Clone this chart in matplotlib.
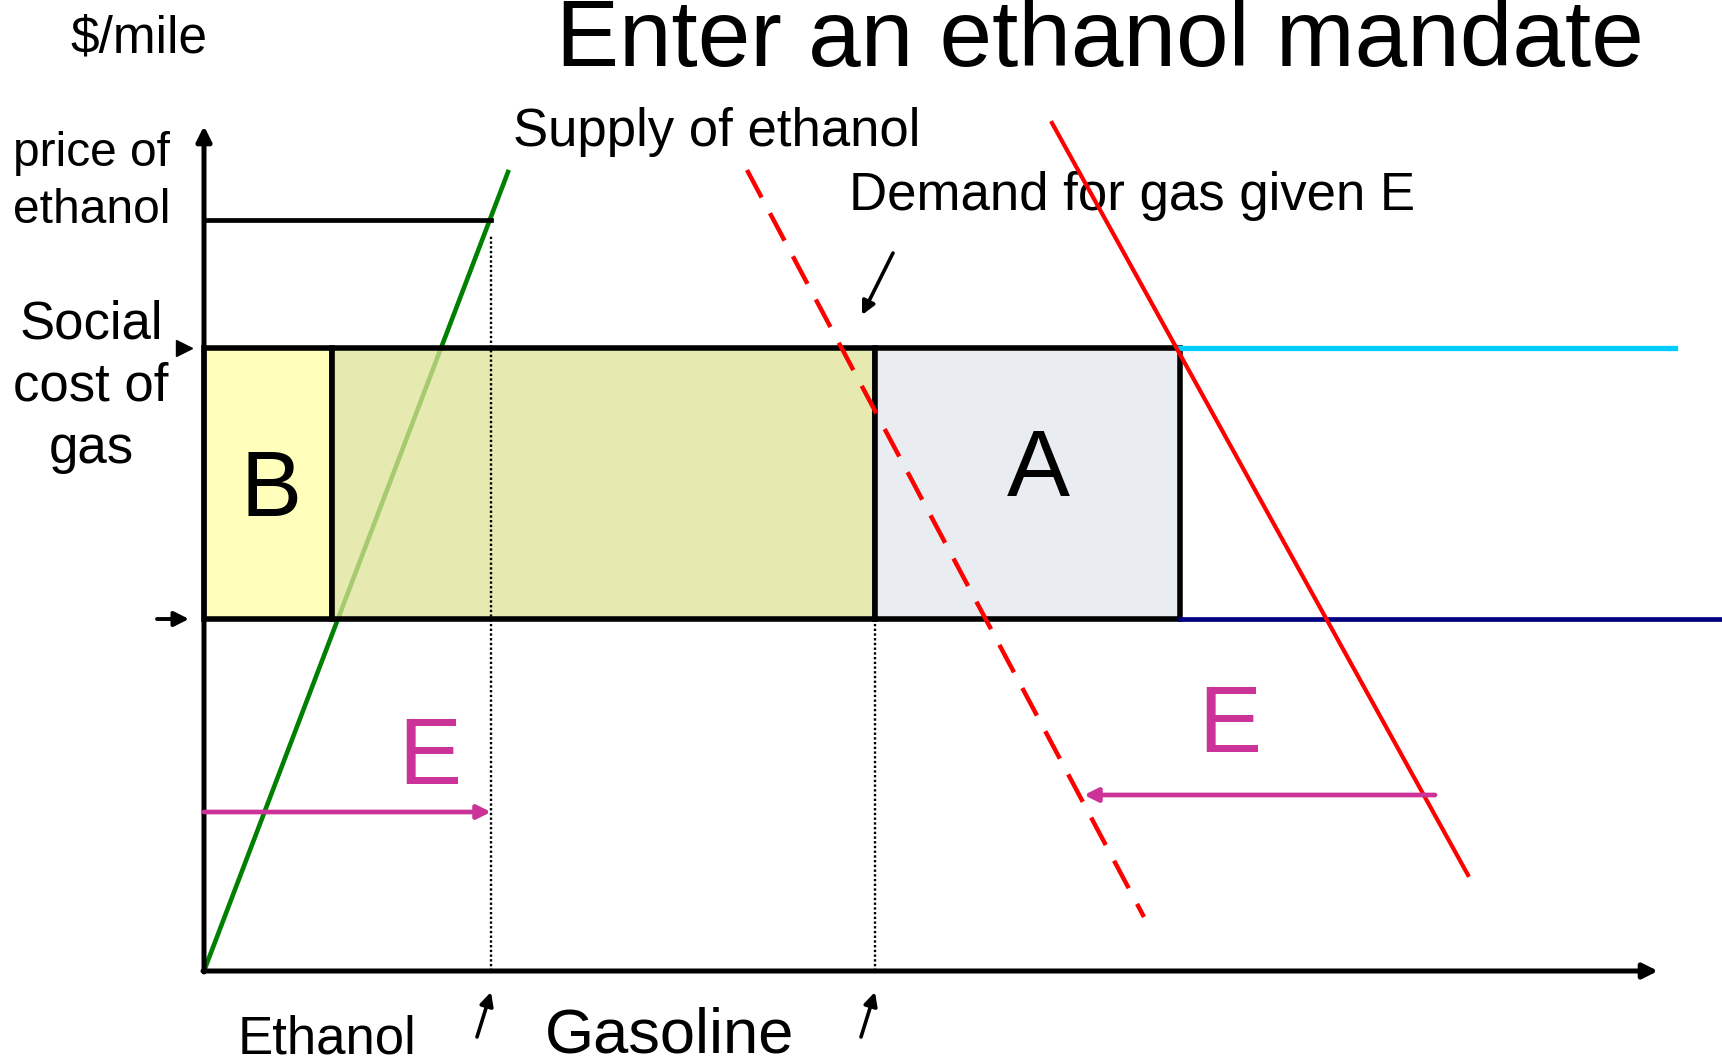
import matplotlib
matplotlib.use("Agg")
import matplotlib.pyplot as plt
from matplotlib.patches import Rectangle

plt.rcParams["font.family"] = ["Liberation Sans", "DejaVu Sans"]

# prices ($/mile)
p_ethanol = 75.1      # price of ethanol
p_social = 62.3       # social cost of gas
p_private = 35.2      # private cost of gas

# quantities
q_b = 12.8            # right edge of area B
q_e = 28.7            # ethanol mandate E
q_gas_new = 67.1      # gasoline with the mandate
q_gas_old = 97.6      # gasoline at social cost without mandate

# curves (two end points each)
supply_x = [0.0, 30.4]
supply_y = [0.0, 79.9]
demand_x = [84.8, 126.4]
demand_y = [84.8, 9.6]
demand_e_x = [54.3, 94.0]
demand_e_y = [80.1, 5.4]

# E shift arrows
e_left = (0.0, q_e, 15.9)
e_right = (123.1, 88.0, 17.6)

fig = plt.figure(figsize=(17.22, 10.64), dpi=100)
ax = fig.add_axes([0, 0, 1, 1])
ax.set_xlim(-20.4, 151.8)
ax.set_ylim(-9.3, 97.1)
ax.axis("off")

# supply of ethanol (behind the shaded area)
ax.plot(supply_x, supply_y, color="#008000", lw=3.3, zorder=1)

# shaded areas
ax.add_patch(Rectangle((0, p_private), q_b, p_social - p_private,
                       facecolor="#FFFFBB", edgecolor="black", lw=4, zorder=2))
ax.add_patch(Rectangle((q_b, p_private), q_gas_new - q_b, p_social - p_private,
                       facecolor=(0.88, 0.893, 0.587, 0.75), edgecolor="black",
                       lw=4, zorder=2))
ax.add_patch(Rectangle((q_gas_new, p_private), q_gas_old - q_gas_new, p_social - p_private,
                       facecolor="#E9ECF0", edgecolor="black", lw=4, zorder=2))

# cost lines to the right
ax.plot([q_gas_old, 147.1], [p_social, p_social], color="#00CCFF", lw=3.8, zorder=2)
ax.plot([q_gas_old, 151.8], [p_private, p_private], color="#000080", lw=3.4, zorder=2)

# ethanol price and dotted guides
ax.plot([0, q_e], [p_ethanol, p_ethanol], color="black", lw=3.4, zorder=3)
ax.plot([q_e, q_e], [0, 73.5], color="black", lw=1.7, ls=(0, (1, 1)), zorder=3)
ax.plot([q_gas_new, q_gas_new], [0, p_private], color="black", lw=1.7,
        ls=(0, (1, 1)), zorder=3)

# demand curves
ax.plot(demand_x, demand_y, color="red", lw=3, zorder=4)
ax.plot(demand_e_x, demand_e_y, color="red", lw=3.2, dashes=(7, 4), zorder=4)

# axes
ax.annotate("", xy=(0, 84.5), xytext=(0, -0.1),
            arrowprops=dict(arrowstyle="-|>", lw=3.6, color="black",
                            mutation_scale=22, shrinkA=0, shrinkB=0), zorder=5)
ax.annotate("", xy=(145.4, 0), xytext=(-0.1, 0),
            arrowprops=dict(arrowstyle="-|>", lw=3.6, color="black",
                            mutation_scale=22, shrinkA=0, shrinkB=0), zorder=5)

# markers on the price axis
ax.plot([-2.0], [p_social], marker=">", ms=12, color="black", zorder=5)
ax.annotate("", xy=(-1.5, p_private), xytext=(-4.7, p_private),
            arrowprops=dict(arrowstyle="-|>", lw=2.8, color="black",
                            mutation_scale=22, shrinkA=0, shrinkB=0))

# E arrows
magenta = "#CC3399"
ax.annotate("", xy=(e_left[1], e_left[2]), xytext=(e_left[0], e_left[2]),
            arrowprops=dict(arrowstyle="-|>", lw=3.4, color=magenta,
                            mutation_scale=20, shrinkA=0, shrinkB=0), zorder=5)
ax.annotate("", xy=(e_right[1], e_right[2]), xytext=(e_right[0], e_right[2]),
            arrowprops=dict(arrowstyle="-|>", lw=3.4, color=magenta,
                            mutation_scale=20, shrinkA=0, shrinkB=0), zorder=5)

# pointer arrows
ax.annotate("", xy=(65.8, 65.6), xytext=(68.9, 71.8),
            arrowprops=dict(arrowstyle="-|>", lw=2.6, color="black",
                            mutation_scale=20, shrinkA=0, shrinkB=0))
for qx in [q_e, q_gas_new]:
    ax.annotate("", xy=(qx, -2.1), xytext=(qx - 1.4, -6.6),
                arrowprops=dict(arrowstyle="-|>", lw=2.6, color="black",
                                mutation_scale=20, shrinkA=0, shrinkB=0))

# texts
ax.text(89.6, 92.95, "Enter an ethanol mandate", fontsize=68, ha="center", va="center")
ax.text(-6.5, 93.15, "$/mile", fontsize=37, ha="center", va="center")
ax.text(-19.1, 78.9, "price of\nethanol", fontsize=34.5, ha="left", va="center",
        linespacing=1.32)
ax.text(-11.3, 58.4, "Social\ncost of\ngas", fontsize=38, ha="center", va="center",
        linespacing=1.32)
ax.text(30.9, 83.9, "Supply of ethanol", fontsize=38, ha="left", va="center")
ax.text(64.5, 77.5, "Demand for gas given E", fontsize=38, ha="left", va="center")
ax.text(6.7, 47.9, "B", fontsize=66, ha="center", va="center", zorder=6)
ax.text(83.4, 49.9, "A", fontsize=68, ha="center", va="center", zorder=6)
ax.text(22.6, 21.2, "E", fontsize=68, color=magenta, ha="center", va="center")
ax.text(102.6, 24.4, "E", fontsize=68, color=magenta, ha="center", va="center")
ax.text(12.3, -6.8, "Ethanol", fontsize=38, ha="center", va="center")
ax.text(46.6, -6.5, "Gasoline", fontsize=45.5, ha="center", va="center")

plt.savefig("out.png", dpi=100)
plt.close()
